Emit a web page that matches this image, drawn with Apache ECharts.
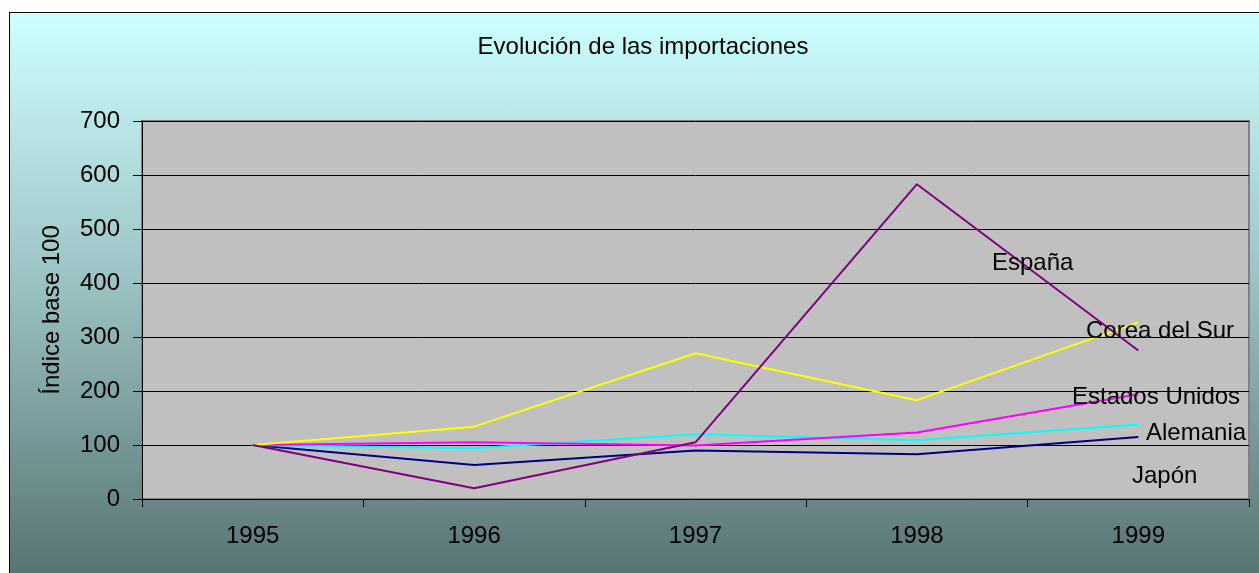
<!DOCTYPE html>
<html>
<head>
<meta charset="utf-8">
<script src="https://cdn.jsdelivr.net/npm/echarts@6/dist/echarts.min.js"></script>
<style>
    body { margin: 0; background: #fff; }
    #frame {
        position: absolute; left: 9px; top: 12px; width: 1250px; height: 561px;
        border-left: 1px solid #000; border-top: 1px solid #000;
        background: linear-gradient(to bottom, #ccffff 0%, #9fc6c6 45%, #587474 100%);
    }
    #chart { position: absolute; left: 0; top: 0; width: 1259px; height: 573px; }
</style>
</head>
<body>
<div id="frame"></div>
<div id="chart"></div>
<script>
var years = ['1995', '1996', '1997', '1998', '1999'];
var espana = [100, 20, 105, 583, 275];
var corea = [100, 134, 270, 183, 327];
var estadosUnidos = [100, 105, 99, 123, 194];
var alemania = [100, 94, 120, 109, 138];
var japon = [100, 63, 90, 83, 115];
var yTicks = [0, 100, 200, 300, 400, 500, 600, 700];

(function () {
    var chart = echarts.init(document.getElementById('chart'));
    var font = 'Liberation Sans, Arial, sans-serif';

    function linea(name, color, data) {
        return {
            name: name,
            type: 'line',
            showSymbol: false,
            symbol: 'none',
            lineStyle: { color: color, width: 2 },
            itemStyle: { color: color },
            data: data
        };
    }

    // etiquetas de las series (anotaciones de texto)
    function etiqueta(text, x, y) {
        return {
            type: 'text',
            left: x,
            top: y,
            z: 100,
            style: { text: text, font: '24px ' + font, fill: '#000' }
        };
    }

    var option = {
        animation: false,
        backgroundColor: 'transparent',
        title: {
            text: 'Evolución de las importaciones',
            left: 638,
            top: 30,
            textAlign: 'center',
            textStyle: { fontFamily: font, fontSize: 24, fontWeight: 'normal', color: '#000' }
        },
        grid: {
            left: 142,
            top: 121,
            width: 1107,
            height: 378,
            show: true,
            backgroundColor: '#c0c0c0',
            borderColor: '#808080',
            borderWidth: 2
        },
        xAxis: {
            type: 'category',
            boundaryGap: true,
            data: years,
            axisLine: { lineStyle: { color: '#000', width: 1 } },
            axisTick: { show: true, length: 8, lineStyle: { color: '#000' } },
            axisLabel: { margin: 25, fontFamily: font, fontSize: 24, color: '#000' }
        },
        yAxis: {
            type: 'value',
            min: yTicks[0],
            max: yTicks[yTicks.length - 1],
            interval: 100,
            name: 'Índice base 100',
            nameLocation: 'middle',
            nameGap: 78,
            nameTextStyle: { fontFamily: font, fontSize: 24, color: '#000' },
            axisLine: { show: true, lineStyle: { color: '#000', width: 1 } },
            axisTick: { show: true, length: 9, lineStyle: { color: '#000' } },
            axisLabel: { margin: 22, fontFamily: font, fontSize: 24, color: '#000' },
            splitLine: { show: true, lineStyle: { color: '#000', width: 1 } }
        },
        series: [
            linea('Japón', '#000080', japon),
            linea('Alemania', '#00ffff', alemania),
            linea('Estados Unidos', '#ff00ff', estadosUnidos),
            linea('Corea del Sur', '#ffff00', corea),
            linea('España', '#800080', espana)
        ],
        graphic: [
            etiqueta('España', 992, 251),
            etiqueta('Corea del Sur', 1086, 319),
            etiqueta('Estados Unidos', 1072, 385),
            etiqueta('Alemania', 1146, 421),
            etiqueta('Japón', 1132, 464)
        ]
    };
    chart.setOption(option);
})();
</script>
</body>
</html>
